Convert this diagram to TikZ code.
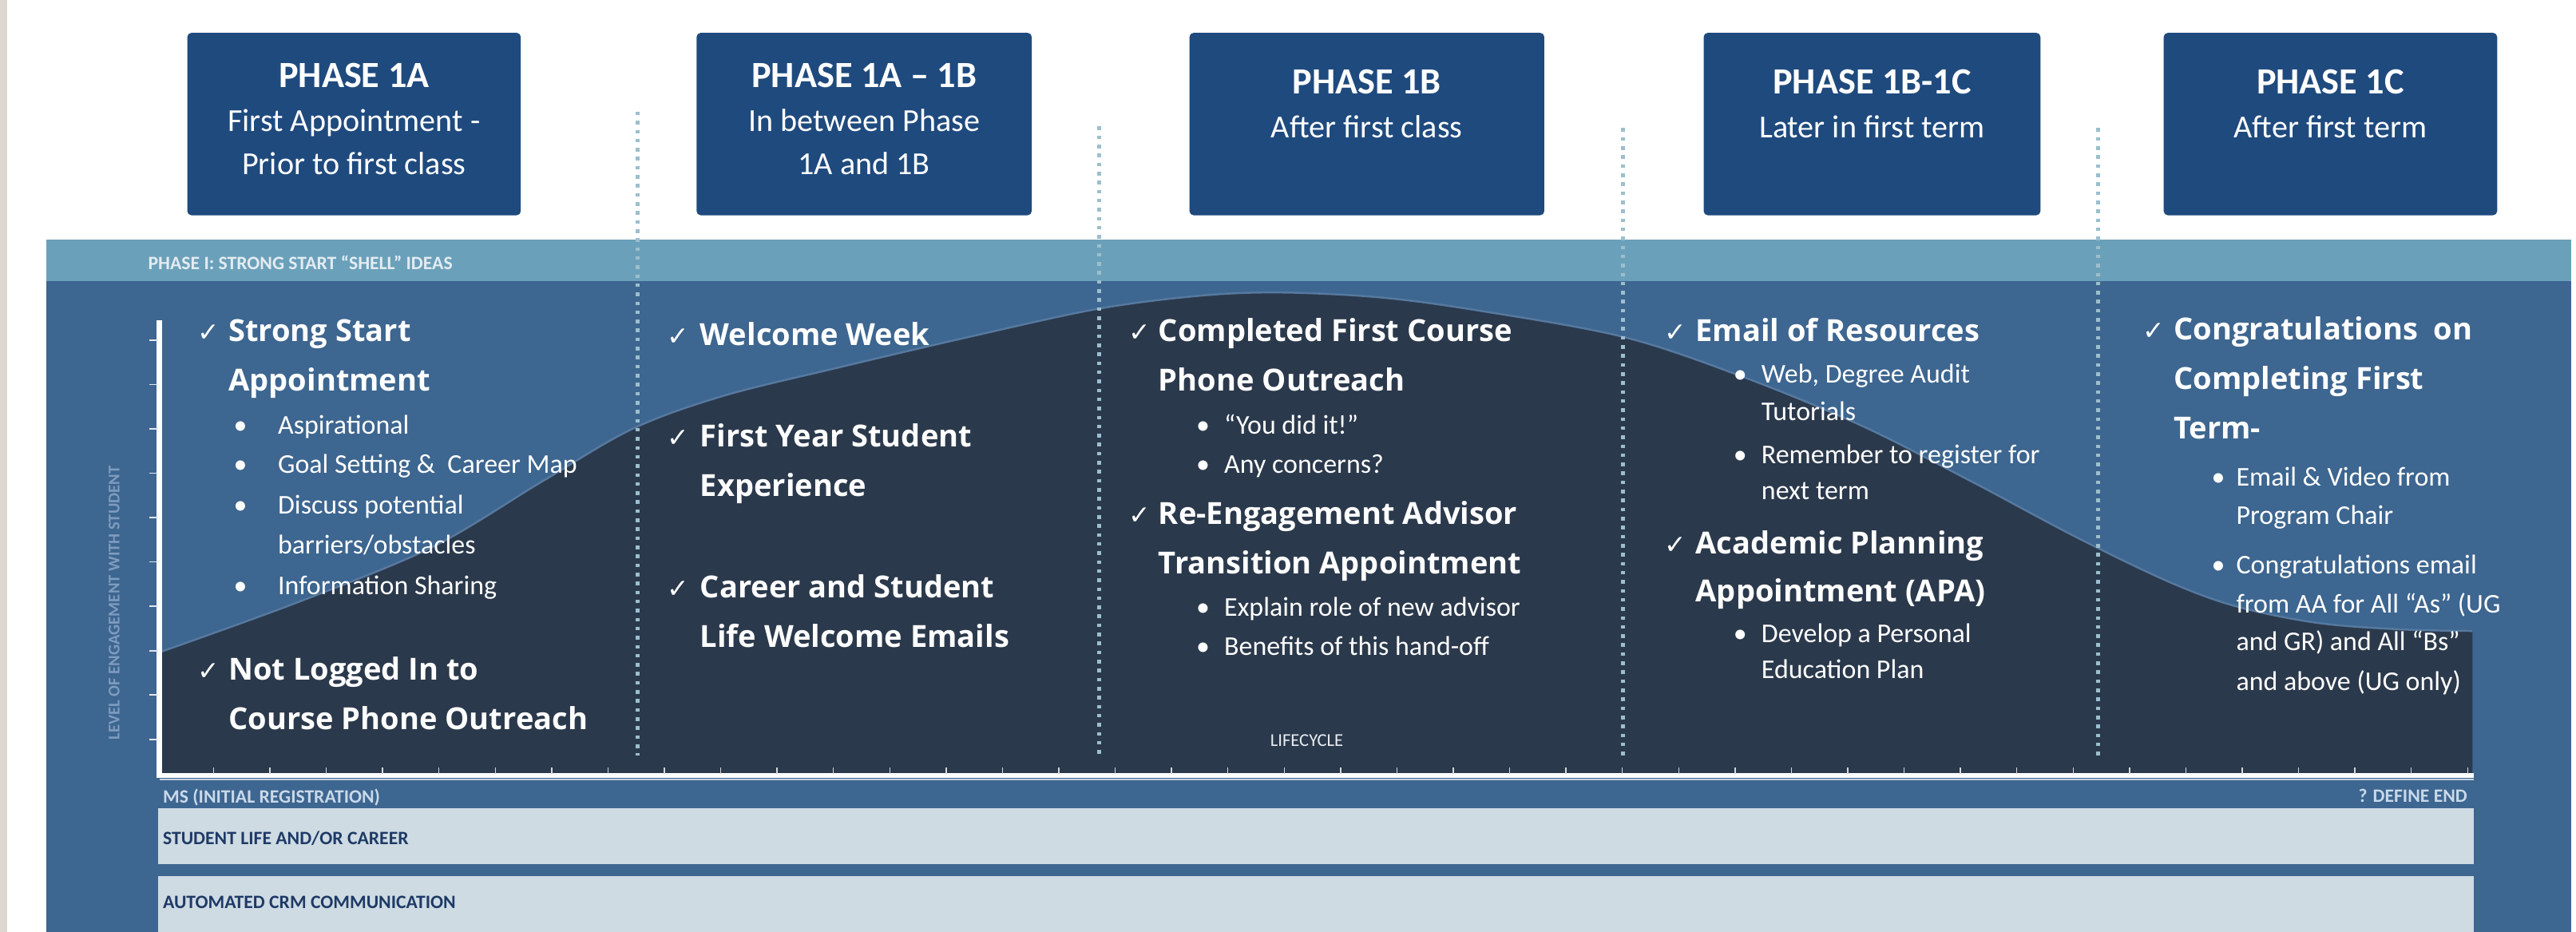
\documentclass[tikz,border=0pt]{standalone}
\usepackage{fontspec}
\setmainfont{Carlito}
\newfontfamily\opensans{Open Sans}
\newfontfamily\dejavu{DejaVu Sans}
\definecolor{navy}{HTML}{1F4A7E}
\definecolor{panelc}{HTML}{3D6690}
\definecolor{bandc}{HTML}{6BA0BA}
\definecolor{darkc}{HTML}{2B394C}
\definecolor{rowc}{HTML}{CEDBE3}
\definecolor{rowtext}{HTML}{1E3A66}
\definecolor{sepc}{HTML}{9CBFCD}
\definecolor{stripc}{HTML}{DCD7D0}
\definecolor{bandtext}{HTML}{E3ECF2}
\definecolor{edgec}{HTML}{56799F}
\definecolor{axlab}{HTML}{C9D9EA}
\definecolor{vlab}{HTML}{7F9CBF}
\tikzset{
  phbox/.style={fill=navy, rounded corners=2.5pt, inner sep=0pt, minimum height=111pt},
  phtitle/.style={font=\bfseries\fontsize{22.5}{25}\selectfont, text=white, anchor=base, inner sep=0pt},
  phsub/.style={font=\fontsize{19.5}{22}\selectfont, text=white, anchor=base, inner sep=0pt},
  itm/.style={font=\opensans\bfseries\fontsize{18.5}{22}\selectfont, text=white, anchor=base west, inner sep=0pt},
  chk/.style={font=\dejavu\fontsize{16}{18}\selectfont, text=white, anchor=base west, inner sep=0pt},
  bul/.style={font=\fontsize{16.5}{20}\selectfont, text=white, anchor=base west, inner sep=0pt},
  dotmark/.style={font=\fontsize{16.5}{20}\selectfont, text=white, anchor=base west, inner sep=0pt},
  sepline/.style={draw=sepc, line width=2.2pt, dash pattern=on 2.2pt off 3.3pt},
  tinylab/.style={font=\bfseries\fontsize{11.5}{13}\selectfont, anchor=base west, inner sep=0pt},
}
\begin{document}
\begin{tikzpicture}[x=1pt,y=-1pt]
\useasboundingbox (0,0) rectangle (1568,567);
\fill[white] (0,0) rectangle (1568,567);
\fill[stripc] (0,0) rectangle (4.5,567);
% panel and band
\fill[panelc] (28,146) rectangle (1565,567);
\fill[bandc] (28,146) rectangle (1565,171);
\node[tinylab, text=bandtext] (bandlab) at (90,164) {PHASE I: STRONG START “SHELL” IDEAS};
% engagement curve
\fill[darkc] (97,472) -- plot[smooth, tension=0.55] coordinates {(97,397) (180,367) (263,333) (330,293) (385,261) (440,241) (509,224) (590,205) (668,188) (730,180) (779,178) (840,181) (900,189) (988,205) (1060,229) (1133,259) (1200,293) (1264,327) (1320,354) (1361,369) (1410,379) (1460,383) (1505,384)} -- (1505,472) -- cycle;
\draw[edgec, line width=1.2pt] plot[smooth, tension=0.55] coordinates {(97,397) (180,367) (263,333) (330,293) (385,261) (440,241) (509,224) (590,205) (668,188) (730,180) (779,178) (840,181) (900,189) (988,205) (1060,229) (1133,259) (1200,293) (1264,327) (1320,354) (1361,369) (1410,379) (1460,383) (1505,384)};
% separators
\draw[sepline] (388,68) -- (388,460);
\draw[sepline] (669,77) -- (669,460);
\draw[sepline] (988,78) -- (988,460);
\draw[sepline] (1277,78) -- (1277,460);
% axes
\draw[white, line width=3pt] (97,195) -- (97,472) -- (1506,472);
\draw[white!70!panelc, line width=1pt] (97,474.5) -- (1506,474.5);
\foreach \k in {0,...,9} \draw[white!85!panelc, line width=0.8pt] (91,207+27*\k) -- (96,207+27*\k);
\foreach \k in {0,...,40} \draw[white!80!darkc, line width=0.7pt] (130+34.3*\k,471) -- (130+34.3*\k,467);
% axis labels
\node[font=\bfseries\fontsize{10}{12}\selectfont, text=vlab, rotate=90, inner sep=0pt] (vlabel) at (69.5,367) {LEVEL OF ENGAGEMENT WITH STUDENT};
\node[tinylab, text=axlab] (mslab) at (99,488.5) {MS (INITIAL REGISTRATION)};
\node[tinylab, text=axlab, anchor=base east] (endlab) at (1502,488) {? DEFINE END};
\node[font=\fontsize{11}{13}\selectfont, text=white!88!panelc, anchor=base west, inner sep=0pt] (life) at (773,454) {LIFECYCLE};
% rows
\fill[rowc] (96,492) rectangle (1506,526);
\fill[rowc] (96,533) rectangle (1506,567);
\node[tinylab, text=rowtext] (row1lab) at (99,514) {STUDENT LIFE AND/OR CAREER};
\node[tinylab, text=rowtext] (row2lab) at (99,553) {AUTOMATED CRM COMMUNICATION};
% phase boxes
\node[phbox, minimum width=203pt] (b1) at (215.5,75.5) {};
\node[phbox, minimum width=204pt] (b2) at (526,75.5) {};
\node[phbox, minimum width=216pt] (b3) at (832,75.5) {};
\node[phbox, minimum width=205pt] (b4) at (1139.5,75.5) {};
\node[phbox, minimum width=203pt] (b5) at (1418.5,75.5) {};
\node[phtitle] (b1t) at (215.5,53) {PHASE 1A};
\node[phsub] (b1s1) at (215.5,80) {First Appointment -};
\node[phsub] (b1s2) at (215.5,106) {Prior to first class};
\node[phtitle] (b2t) at (526,53) {PHASE 1A – 1B};
\node[phsub] (b2s1) at (526,80) {In between Phase};
\node[phsub] (b2s2) at (526,106) {1A and 1B};
\node[phtitle] (b3t) at (832,57) {PHASE 1B};
\node[phsub] (b3s1) at (832,84) {After first class};
\node[phtitle] (b4t) at (1139.5,57) {PHASE 1B-1C};
\node[phsub] (b4s1) at (1139.5,84) {Later in first term};
\node[phtitle] (b5t) at (1418.5,57) {PHASE 1C};
\node[phsub] (b5s1) at (1418.5,84) {After first term};
% column 1
\node[chk] (k11) at (120,208) {✓};
\node[itm] (c11) at (139,208) {Strong Start};
\node[itm] (c12) at (139,238) {Appointment};
\node[dotmark] (d11) at (142,264) {•};
\node[bul] (u11) at (169,264) {Aspirational};
\node[dotmark] (d12) at (142,288) {•};
\node[bul] (u12) at (169,288) {Goal Setting \&\ \ Career Map};
\node[dotmark] (d13) at (142,313) {•};
\node[bul] (u13) at (169,313) {Discuss potential};
\node[bul] (u14) at (169,337) {barriers/obstacles};
\node[dotmark] (d15) at (142,362) {•};
\node[bul] (u15) at (169,362) {Information Sharing};
\node[chk] (k12) at (120,414) {✓};
\node[itm] (c13) at (139,414) {Not Logged In to};
\node[itm] (c14) at (139,444) {Course Phone Outreach};
% column 2
\node[chk] (k21) at (406,210) {✓};
\node[itm] (c21) at (426,210) {Welcome Week};
\node[chk] (k22) at (406,272) {✓};
\node[itm] (c22) at (426,272) {First Year Student};
\node[itm] (c23) at (426,302) {Experience};
\node[chk] (k23) at (406,364) {✓};
\node[itm] (c24) at (426,364) {Career and Student};
\node[itm] (c25) at (426,394) {Life Welcome Emails};
% column 3
\node[chk] (k31) at (687,208) {✓};
\node[itm] (c31) at (705,208) {Completed First Course};
\node[itm] (c32) at (705,238) {Phone Outreach};
\node[dotmark] (d31) at (728,264) {•};
\node[bul] (u31) at (745,264) {“You did it!”};
\node[dotmark] (d32) at (728,288) {•};
\node[bul] (u32) at (745,288) {Any concerns?};
\node[chk] (k32) at (687,319) {✓};
\node[itm] (c33) at (705,319) {Re-Engagement Advisor};
\node[itm] (c34) at (705,349) {Transition Appointment};
\node[dotmark] (d33) at (728,375) {•};
\node[bul] (u33) at (745,375) {Explain role of new advisor};
\node[dotmark] (d34) at (728,399) {•};
\node[bul] (u34) at (745,399) {Benefits of this hand-off};
% column 4
\node[chk] (k41) at (1013,208) {✓};
\node[itm] (c41) at (1032,208) {Email of Resources};
\node[dotmark] (d41) at (1055,233) {•};
\node[bul] (u41) at (1072,233) {Web, Degree Audit};
\node[bul] (u42) at (1072,256) {Tutorials};
\node[dotmark] (d43) at (1055,282) {•};
\node[bul] (u43) at (1072,282) {Remember to register for};
\node[bul] (u44) at (1072,304) {next term};
\node[chk] (k42) at (1013,337) {✓};
\node[itm] (c42) at (1032,337) {Academic Planning};
\node[itm] (c43) at (1032,366) {Appointment (APA)};
\node[dotmark] (d45) at (1055,391) {•};
\node[bul] (u45) at (1072,391) {Develop a Personal};
\node[bul] (u46) at (1072,413) {Education Plan};
% column 5
\node[chk] (k51) at (1304,207) {✓};
\node[itm] (c51) at (1323,207) {Congratulations\ \ on};
\node[itm] (c52) at (1323,237) {Completing First};
\node[itm] (c53) at (1323,267) {Term-};
\node[dotmark] (d51) at (1346,296) {•};
\node[bul] (u51) at (1361,296) {Email \& Video from};
\node[bul] (u52) at (1361,319) {Program Chair};
\node[dotmark] (d53) at (1346,349) {•};
\node[bul] (u53) at (1361,349) {Congratulations email};
\node[bul] (u54) at (1361,373) {from AA for All “As” (UG};
\node[bul] (u55) at (1361,396) {and GR) and All “Bs”};
\node[bul] (u56) at (1361,420) {and above (UG only)};
\end{tikzpicture}
\end{document}
